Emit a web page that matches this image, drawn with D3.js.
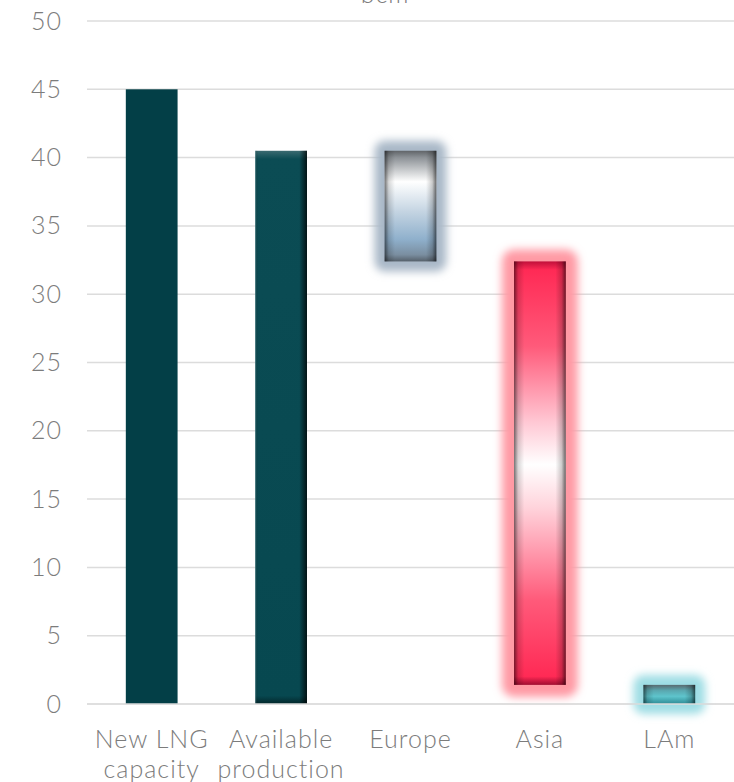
<!DOCTYPE html>
<html><head><meta charset="utf-8">
<script src="https://cdn.jsdelivr.net/npm/d3@7"></script>
<style>
html,body{margin:0;padding:0;background:#fff;}
svg{display:block;font-family:Lato, "Open Sans", sans-serif;}
</style></head>
<body>
<svg id="chart" width="734" height="782"></svg>
<script>
const categories = ["New LNG\ncapacity", "Available\nproduction", "Europe", "Asia", "LAm"];
const barStart = [0, 0, 32.4, 1.4, 0];
const barEnd = [45, 40.5, 40.5, 32.4, 1.4];
const yTicks = [0, 5, 10, 15, 20, 25, 30, 35, 40, 45, 50];
const unitLabel = "bcm";

const svg = d3.select("#chart");
const W = 734, H = 782;
const margin = {left: 87, right: 0, top: 21, bottom: 78};
const FS = 25, LS = 1, TXT = "#7c7c7c";

const x = d3.scaleBand().domain(categories).range([margin.left, W - margin.right]).paddingInner(0.6).paddingOuter(0.3);
const y = d3.scaleLinear().domain([0, 50]).range([H - margin.bottom, margin.top]);

const defs = svg.append("defs");

function vGrad(id, stops) {
  const g = defs.append("linearGradient").attr("id", id).attr("x1", 0).attr("y1", 0).attr("x2", 0).attr("y2", 1);
  stops.forEach(s => g.append("stop").attr("offset", s[0]).attr("stop-color", s[1]).attr("stop-opacity", s[2] == null ? 1 : s[2]));
}
function hGrad(id, stops) {
  const g = defs.append("linearGradient").attr("id", id).attr("x1", 0).attr("y1", 0).attr("x2", 1).attr("y2", 0);
  stops.forEach(s => g.append("stop").attr("offset", s[0]).attr("stop-color", s[1]).attr("stop-opacity", s[2] == null ? 1 : s[2]));
}
vGrad("gEurope", [[0, "#606468"], [0.06, "#8c9196"], [0.28, "#ffffff"], [0.55, "#c4d4e2"], [0.8, "#8fb0cc"], [0.94, "#7a8ea0"], [1, "#55606a"]]);
vGrad("gAsia", [[0, "#c0103a"], [0.02, "#ff2a55"], [0.2, "#ff5a7a"], [0.38, "#ffc8d4"], [0.48, "#ffffff"], [0.58, "#ffd4dc"], [0.8, "#ff5a7a"], [0.98, "#ff2a55"], [1, "#a00c30"]]);
vGrad("gLam", [[0, "#5a6a70"], [0.3, "#5aa8b0"], [0.6, "#5ec4cc"], [1, "#2e8c96"]]);
vGrad("gAvail", [[0, "#3a6a70"], [0.015, "#0b4c54"], [0.985, "#074850"], [1, "#02262a"]]);
hGrad("gEdge", [[0, "#000", 0.55], [0.08, "#000", 0.15], [0.2, "#000", 0], [0.8, "#000", 0], [0.92, "#000", 0.2], [1, "#000", 0.6]]);
hGrad("gEdgeAvail", [[0, "#6a9aa0", 0.5], [0.05, "#000", 0], [0.85, "#000", 0], [1, "#000", 0.75]]);

const glowF = defs.append("filter").attr("id", "glow").attr("x", "-50%").attr("y", "-50%").attr("width", "200%").attr("height", "200%");
glowF.append("feGaussianBlur").attr("stdDeviation", 4.5);

const styles = [
  {fill: "#033f47", edge: null, glow: null, g: 0},
  {fill: "url(#gAvail)", edge: "url(#gEdgeAvail)", glow: null, g: 0},
  {fill: "url(#gEurope)", edge: "url(#gEdge)", glow: "#a9b8c7", g: 10},
  {fill: "url(#gAsia)", edge: "url(#gEdge)", glow: "#ff9aa4", g: 12},
  {fill: "url(#gLam)", edge: "url(#gEdge)", glow: "#9edde4", g: 10}
];

// gridlines
svg.append("g").selectAll("line").data(yTicks).join("line")
  .attr("x1", margin.left).attr("x2", W)
  .attr("y1", d => y(d)).attr("y2", d => y(d))
  .attr("stroke", "#dcdcdc").attr("stroke-width", 1.5);

// y axis labels
const yAxis = d3.axisLeft(y).tickValues(yTicks).tickSize(0).tickPadding(0);
const ya = svg.append("g").attr("transform", `translate(${margin.left - 25},0)`).call(yAxis);
ya.select(".domain").remove();
ya.selectAll("text").attr("font-size", FS).attr("fill", TXT).attr("font-family", "Lato").attr("font-weight", 300).attr("letter-spacing", LS);

const bars = svg.append("g");
categories.forEach((c, i) => {
  const st = styles[i];
  const bx = x(c), bw = x.bandwidth();
  const y0 = y(barEnd[i]), h = y(barStart[i]) - y(barEnd[i]);
  if (st.glow) {
    bars.append("rect").attr("x", bx - st.g).attr("y", y0 - st.g).attr("width", bw + 2 * st.g).attr("height", h + 2 * st.g)
      .attr("rx", st.g).attr("fill", st.glow).attr("filter", "url(#glow)");
  }
  bars.append("rect").attr("x", bx).attr("y", y0).attr("width", bw).attr("height", h).attr("fill", st.fill);
  if (st.edge) {
    bars.append("rect").attr("x", bx).attr("y", y0).attr("width", bw).attr("height", h).attr("fill", st.edge);
  }
});

// baseline
svg.append("line").attr("x1", margin.left).attr("x2", W).attr("y1", y(0)).attr("y2", y(0)).attr("stroke", "#dcdcdc").attr("stroke-width", 1.5);

// x labels
const xa = svg.append("g");
categories.forEach(c => {
  const lines = c.split("\n");
  const t = xa.append("text").attr("x", x(c) + x.bandwidth() / 2).attr("y", 748)
    .attr("text-anchor", "middle").attr("font-size", FS).attr("fill", TXT).attr("font-weight", 300).attr("letter-spacing", LS);
  lines.forEach((l, k) => t.append("tspan").attr("x", x(c) + x.bandwidth() / 2).attr("dy", k === 0 ? 0 : 30).text(l));
});

// unit title
svg.append("text").attr("x", 385).attr("y", 3).attr("text-anchor", "middle")
  .attr("font-size", FS).attr("fill", TXT).attr("font-weight", 300).attr("letter-spacing", LS).text(unitLabel);
</script>
</body></html>
